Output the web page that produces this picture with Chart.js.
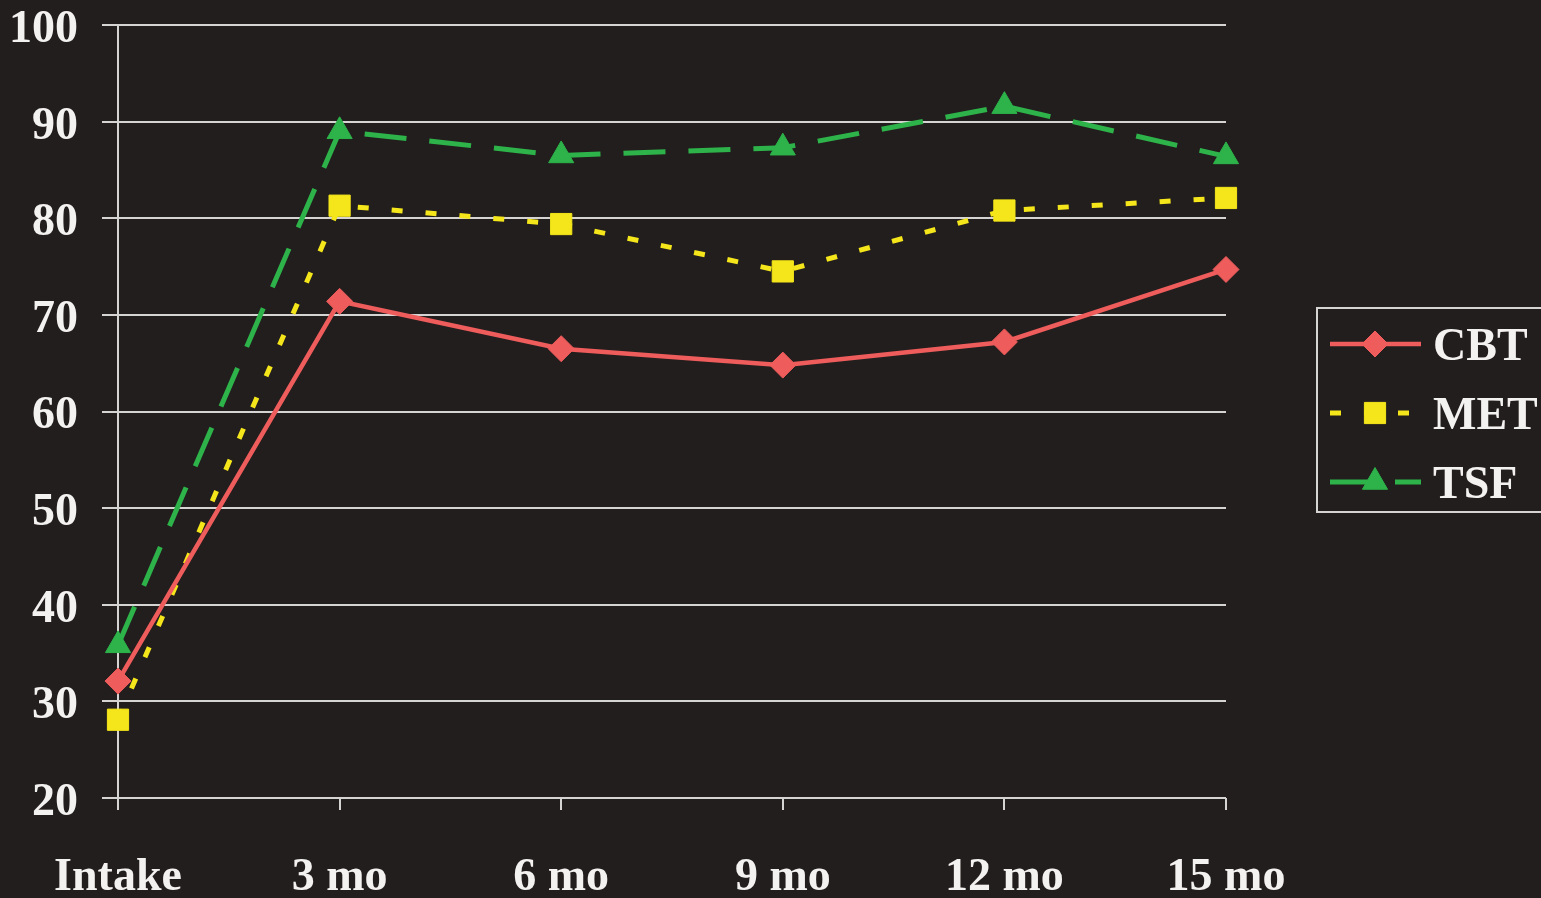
<!DOCTYPE html>
<html>
<head>
<meta charset="utf-8">
<script src="https://cdn.jsdelivr.net/npm/chart.js@4/dist/chart.umd.min.js"></script>
<style>
  html, body { margin: 0; padding: 0; background: #221e1d; }
  #wrap { width: 1541px; height: 898px; position: relative; }
  canvas { display: block; }
</style>
</head>
<body>
<div id="wrap"><canvas id="c" width="1541" height="898"></canvas></div>
<script>
// Time points
const timepoints = ['Intake', '3 mo', '6 mo', '9 mo', '12 mo', '15 mo'];

// Scores per treatment group
const cbtValues = [32.1, 71.4, 66.5, 64.8, 67.2, 74.7];
const metValues = [28.1, 81.3, 79.4, 74.5, 80.8, 82.1];
const tsfValues = [35.8, 89.0, 86.5, 87.3, 91.6, 86.4];

// Y axis range
const yMin = 20;
const yMax = 100;
const yStep = 10;

const seriesNames = ['CBT', 'MET', 'TSF'];

const FONT = "'Liberation Serif', 'Times New Roman', serif";
const TEXT = '#f4f2f0';
const GRID = '#d6d4d2';

const styles = {
  CBT: { color: '#ee5c5c', dash: [], width: 4.5, point: 'rectRot', radius: 13 },
  MET: { color: '#f4e61a', dash: [11, 23], width: 5, point: 'rect', radius: 15 },
  TSF: { color: '#2db34a', dash: [42, 23], width: 5, point: 'triangle', radius: 14.5 }
};

function makeDataset(name, values) {
  const s = styles[name];
  return {
    label: name,
    data: values,
    borderColor: s.color,
    backgroundColor: s.color,
    borderWidth: s.width,
    borderDash: s.dash,
    pointStyle: s.point,
    pointRadius: s.radius,
    pointBackgroundColor: s.color,
    pointBorderColor: s.color,
    pointBorderWidth: 1,
    tension: 0,
    fill: false,
    clip: false
  };
}

// Boxed legend at the right with a line sample, marker and label per series
const boxLegend = {
  id: 'boxLegend',
  afterDraw(chart) {
    const ctx = chart.ctx;
    ctx.save();
    ctx.strokeStyle = GRID;
    ctx.lineWidth = 2;
    ctx.strokeRect(1317, 308, 240, 204);

    const rows = [344, 413, 482];
    const x0 = 1330, x1 = 1421, xm = 1375;
    seriesNames.forEach((name, i) => {
      const s = styles[name];
      const y = rows[i];
      ctx.save();
      ctx.strokeStyle = s.color;
      ctx.lineWidth = s.width;
      ctx.setLineDash(s.dash);
      ctx.lineCap = 'butt';
      ctx.beginPath();
      ctx.moveTo(x0, y);
      ctx.lineTo(x1, y);
      ctx.stroke();
      ctx.restore();

      ctx.save();
      ctx.fillStyle = s.color;
      ctx.strokeStyle = s.color;
      ctx.lineWidth = 1;
      Chart.helpers.drawPoint(ctx, {
        pointStyle: s.point,
        radius: s.radius,
        rotation: 0,
        borderWidth: 1
      }, xm, y);
      ctx.restore();

      ctx.fillStyle = TEXT;
      ctx.font = 'bold 46px ' + FONT;
      ctx.textAlign = 'left';
      ctx.textBaseline = 'middle';
      ctx.fillText(name, 1433, y + 4);
    });
    ctx.restore();
  }
};

new Chart(document.getElementById('c'), {
  type: 'line',
  data: {
    labels: timepoints,
    datasets: [
      makeDataset('CBT', cbtValues),
      makeDataset('MET', metValues),
      makeDataset('TSF', tsfValues)
    ]
  },
  options: {
    responsive: false,
    animation: false,
    events: [],
    layout: { padding: { top: 25, right: 315, left: 0, bottom: 0 } },
    plugins: {
      legend: { display: false },
      tooltip: { enabled: false }
    },
    scales: {
      x: {
        type: 'category',
        offset: false,
        grid: {
          display: true,
          drawOnChartArea: false,
          drawTicks: true,
          tickLength: 12,
          color: GRID,
          lineWidth: 2
        },
        border: { display: false },
        ticks: {
          color: TEXT,
          font: { family: FONT, size: 46, weight: 'bold' },
          padding: 41,
          maxRotation: 0,
          autoSkip: false
        },
        afterFit(scale) {
          scale.height = 100;
          scale.paddingLeft = 0;
          scale.paddingRight = 0;
        }
      },
      y: {
        min: yMin,
        max: yMax,
        grid: {
          color: GRID,
          lineWidth: 2,
          drawTicks: true,
          tickLength: 16
        },
        border: { display: true, color: GRID, width: 2 },
        ticks: {
          stepSize: yStep,
          color: TEXT,
          font: { family: FONT, size: 46, weight: 'bold' },
          padding: 24,
          labelOffset: 5
        },
        afterFit(scale) {
          scale.width = 118;
          scale.paddingTop = 0;
          scale.paddingBottom = 0;
        }
      }
    }
  },
  plugins: [boxLegend]
});
</script>
</body>
</html>
